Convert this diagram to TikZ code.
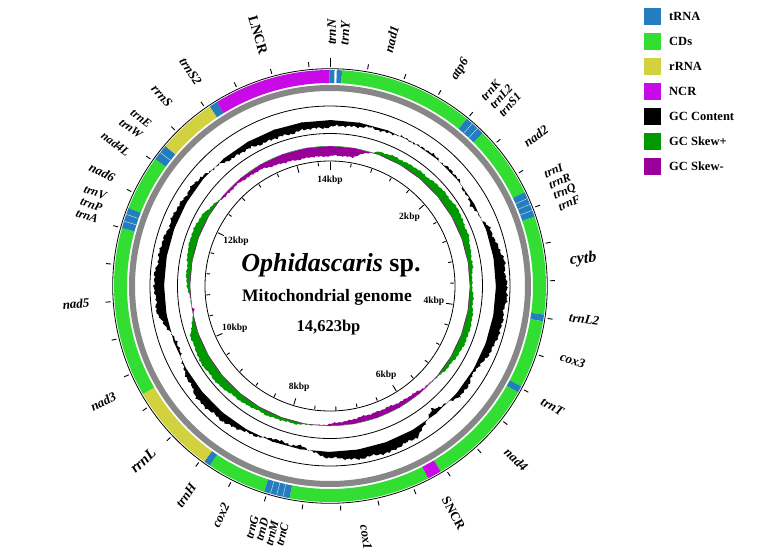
\documentclass[tikz,border=0pt]{standalone}
\usepackage{fontspec}
\setmainfont{Liberation Serif}
\usetikzlibrary{calc}
\definecolor{trna}{RGB}{35,125,190}
\definecolor{cds}{RGB}{50,222,50}
\definecolor{rrna}{RGB}{210,210,65}
\definecolor{ncr}{RGB}{200,10,230}
\definecolor{skp}{RGB}{0,153,0}
\definecolor{skm}{RGB}{153,0,153}
\definecolor{ringgray}{RGB}{135,135,135}
\newcommand\garc[3]{\fill[#3] ({90-#1}:216) arc[start angle={90-#1}, end angle={90-#2}, radius=216] -- ({90-#2}:203) arc[start angle={90-#2}, end angle={90-#1}, radius=203] -- cycle;}
\newcommand\gsep[1]{\draw[white, line width=0.5pt, opacity=0.7] ({90-#1}:203) -- ({90-#1}:216);}
\newcommand\csep[1]{\draw[cds!75!black, line width=0.4pt, opacity=0.5] ({90-#1}:203) -- ({90-#1}:216);}
\newcommand\rgtlab[5][glab]{\node[#1,anchor=west,rotate={90-#4}] (#2) at ({90-#3}:241) {#5};}
\newcommand\lftlab[5][glab]{\node[#1,anchor=east,rotate={270-#4}] (#2) at ({90-#3}:241) {#5};}
\newcommand\rgtgrp[4]{\node[tlab,anchor=west,rotate={90-#2}] (#1) at ($({90-#2}:241)+({-#2}:{#3})$) {#4};}
\newcommand\lftgrp[4]{\node[tlab,anchor=east,rotate={270-#2}] (#1) at ($({90-#2}:241)+({180-#2}:{#3})$) {#4};}
\begin{document}
\begin{tikzpicture}[x=1pt,y=1pt,
  declare function={nz(\x)=1.1*sin(45*mod(\x,40))*cos(13*\x)+0.7*sin(171*mod(\x,40)+40)+0.45*sin(315*mod(\x,40));},
  glab/.style={inner sep=0pt, font=\bfseries\itshape\fontsize{13}{13}\selectfont},
  tlab/.style={inner sep=0pt, font=\bfseries\itshape\fontsize{12}{12}\selectfont},
  ulab/.style={inner sep=0pt, font=\bfseries\fontsize{13}{13}\selectfont},
  klab/.style={inner sep=0pt, font=\bfseries\fontsize{9.5}{9.5}\selectfont},
  legbox/.style={minimum size=17pt, inner sep=0pt, draw=none},
  legtext/.style={inner sep=0pt, anchor=west, font=\bfseries\fontsize{12.5}{12.5}\selectfont},
  tickline/.style={line width=0.9pt, black}]
\useasboundingbox (-330,-272) rectangle (434,286);
\fill[white] (-330,-272) rectangle (434,286);

% backbone ring
\fill[ringgray, even odd rule] (0,0) circle (201) (0,0) circle (195);

% gene ring
\garc{-0.2}{1.2}{trna}
\garc{1.8}{3.2}{trna}
\garc{3.2}{24.5}{cds}
\garc{24.5}{39.3}{cds}
\garc{39.3}{45}{trna}
\garc{45}{64.3}{cds}
\garc{64.3}{71.3}{trna}
\garc{71.3}{97.6}{cds}
\garc{97.6}{99.4}{trna}
\garc{99.4}{117.7}{cds}
\garc{117.7}{119.5}{trna}
\garc{119.5}{149.2}{cds}
\garc{149.2}{153}{ncr}
\garc{153}{190.8}{cds}
\garc{190.8}{197.8}{trna}
\garc{197.8}{213.8}{cds}
\garc{213.8}{215.6}{trna}
\garc{215.6}{240}{rrna}
\garc{240}{247}{cds}
\garc{247}{285.6}{cds}
\garc{285.6}{291.2}{trna}
\garc{291.2}{301}{cds}
\garc{301}{306}{cds}
\garc{306}{310.4}{trna}
\garc{310.4}{326.2}{rrna}
\garc{326.2}{328.4}{trna}
\garc{328.4}{359.8}{ncr}
\foreach \s in {41.2,43.1,66.1,67.8,69.5,192.6,194.3,196,287.5,289.4,308.2} {\gsep{\s}}
\foreach \s in {24.5,247,301} {\csep{\s}}
\draw[line width=0.8pt] (0,0) circle (217.3);

% track circles
\draw[line width=0.8pt] (0,0) circle (180);
\draw[line width=0.8pt] (0,0) circle (152.5);
\draw[line width=0.8pt] (0,0) circle (125);

% GC content
\foreach \ta/\va/\vb in {0/-7/-4,10/-4/-2,20/-2/0,30/0/1,40/1/1,50/1/-4,60/-4/3,70/3/9,80/9/11,90/11/10,100/10/9,110/9/2,120/2/5,130/5/-6,140/-6/8,150/8/10,160/10/9,170/9/6,180/6/-3,190/-3/-3,200/-3/3,210/3/7,220/7/8,230/8/2,240/2/-4,250/-4/8,260/8/10,270/10/8,280/8/6,290/6/5,300/5/3,310/3/-4,320/-4/-7,330/-7/-9,340/-9/-8,350/-8/-7} {
  \fill[black] ({90-\ta}:166)
    \foreach \k [evaluate={\k as \th using \ta+0.5*\k}, evaluate={\k as \vv using (\va)+((\vb)-(\va))*\k/20+nz(\ta+0.5*\k)}] in {0,...,21} { -- ({90-\th}:{166+(\vv)}) }
    -- ({79.5-\ta}:166) -- cycle;
}

% GC skew
\foreach \ta/\va/\vb in {0/-10/-9,10/-9/3,20/3/5,30/5/6,40/6/8,50/8/9,60/9/7,70/7/4,80/4/2,90/2/5,100/5/7,110/7/5,120/5/1,130/1/-3,140/-3/-5,150/-5/-6,160/-6/-5,170/-5/-2,180/-2/1,190/1/3,200/3/4,210/4/6,220/6/9,230/9/10,240/10/8,250/8/-2,260/-2/3,270/3/5,280/5/8,290/8/6,300/6/-2,310/-2/-3,320/-3/-5,330/-5/-9,340/-9/-10,350/-10/-10} {
  \fill[skp] ({90-\ta}:140)
    \foreach \k [evaluate={\k as \th using \ta+0.5*\k}, evaluate={\k as \vv using max((\va)+((\vb)-(\va))*\k/20+0.6*nz(\ta+0.5*\k),0)}] in {0,...,21} { -- ({90-\th}:{140+(\vv)}) }
    -- ({79.5-\ta}:140) -- cycle;
  \fill[skm] ({90-\ta}:140)
    \foreach \k [evaluate={\k as \th using \ta+0.5*\k}, evaluate={\k as \vv using min((\va)+((\vb)-(\va))*\k/20+0.6*nz(\ta+0.5*\k),0)}] in {0,...,21} { -- ({90-\th}:{140+(\vv)}) }
    -- ({79.5-\ta}:140) -- cycle;
}

% ticks
\foreach \k in {0,...,36} {
  \pgfmathsetmacro\ang{90-\k*9.8475}
  \pgfmathtruncatemacro\md{mod(\k,5)}
  \ifnum\k=0
    \draw[tickline] (\ang:219) -- (\ang:228);
    \draw[tickline] (\ang:124.5) -- (\ang:116.5);
  \else
    \draw[tickline] (\ang:220) -- (\ang:225);
    \ifnum\md=0
      \draw[tickline] (\ang:124) -- (\ang:117.5);
    \else
      \draw[tickline] (\ang:124) -- (\ang:120.5);
    \fi
  \fi
}

% kbp labels
\node[klab] (k14) at (90:106) {14kbp};
\node[klab] (k2) at ({90-49.24}:105) {2kbp};
\node[klab] (k4) at ({90-98.48}:105) {4kbp};
\node[klab] (k6) at ({90-147.71}:105) {6kbp};
\node[klab] (k8) at ({90-196.95}:106) {8kbp};
\node[klab] (k10) at ({90-246.19}:104) {10kbp};
\node[klab] (k12) at ({90-295.43}:104) {12kbp};

% gene labels, right half
\rgtlab{lN}{0.4}{0.4}{trnN}
\rgtlab{lY}{3.4}{3.4}{trnY}
\rgtlab{lnad1}{14}{14}{nad1}
\rgtlab{latp6}{31}{31}{atp6}
\rgtgrp{lK}{42.1}{-12}{trnK}
\rgtgrp{lL2a}{42.1}{0}{trnL2}
\rgtgrp{lS1}{42.1}{12}{trnS1}
\rgtlab{lnad2}{54}{54}{nad2}
\rgtgrp{lI}{66.8}{-18}{trnI}
\rgtgrp{lR}{66.8}{-6}{trnR}
\rgtgrp{lQ}{66.8}{6}{trnQ}
\rgtgrp{lF}{66.8}{18}{trnF}
\rgtlab[glab,font=\bfseries\itshape\fontsize{16}{16}\selectfont]{lcytb}{84}{84}{cytb}
\rgtlab{lL2b}{97.5}{97.5}{trnL2}
\rgtlab{lcox3}{107}{107}{cox3}
\rgtlab{lT}{118.5}{118.5}{trnT}
\rgtlab{lnad4}{133}{133}{nad4}
\rgtlab[ulab]{lSNCR}{151.5}{151.5}{SNCR}
\rgtlab{lcox1}{171.8}{171.8}{cox1}
% gene labels, left half
\lftgrp{lG}{194.4}{-15.5}{trnG}
\lftgrp{lD}{194.4}{-5.2}{trnD}
\lftgrp{lM}{194.4}{5.2}{trnM}
\lftgrp{lC}{194.4}{15.5}{trnC}
\lftlab{lcox2}{205.5}{205.5}{cox2}
\lftlab{lH}{214.5}{214.5}{trnH}
\lftlab[glab,font=\bfseries\itshape\fontsize{15}{15}\selectfont]{lrrnL}{227}{227}{rrnL}
\lftlab{lnad3}{243}{243}{nad3}
\lftlab{lnad5}{266}{266}{nad5}
\lftgrp{lV}{288.9}{-12.5}{trnV}
\lftgrp{lP}{288.9}{0}{trnP}
\lftgrp{lA}{288.9}{12.5}{trnA}
\lftlab{lnad6}{296.5}{296.5}{nad6}
\lftlab[tlab]{lnad4L}{303.3}{307}{nad4L}
\lftlab[tlab]{lW}{308.4}{307}{trnW}
\lftlab[tlab]{lE}{311.8}{307}{trnE}
\lftlab{lrrnS}{318.5}{318.5}{rrnS}
\lftlab{lS2}{327}{327}{trnS2}
\lftlab[glab,font=\bfseries\fontsize{14}{14}\selectfont]{lLNCR}{344}{344}{LNCR}

% centre text
\node[inner sep=0pt] (title) at (1,21) {\bfseries\fontsize{26}{26}\selectfont\itshape Ophidascaris\upshape\ sp.};
\node[inner sep=0pt] (sub) at (-3,-11) {\bfseries\fontsize{17.5}{17.5}\selectfont Mitochondrial genome};
\node[inner sep=0pt] (len) at (-1.5,-42) {\bfseries\fontsize{16.5}{16.5}\selectfont 14,623bp};

% legend
\foreach \i/\c/\t in {0/trna/tRNA,1/cds/CDs,2/rrna/rRNA,3/ncr/NCR,4/black/GC Content,5/skp/GC Skew+,6/skm/GC Skew-} {
  \node[legbox, fill=\c] (lb\i) at (322.5,{269.5-25*\i}) {};
  \node[legtext] (lt\i) at (339,{269.5-25*\i}) {\t};
}
\end{tikzpicture}
\end{document}
